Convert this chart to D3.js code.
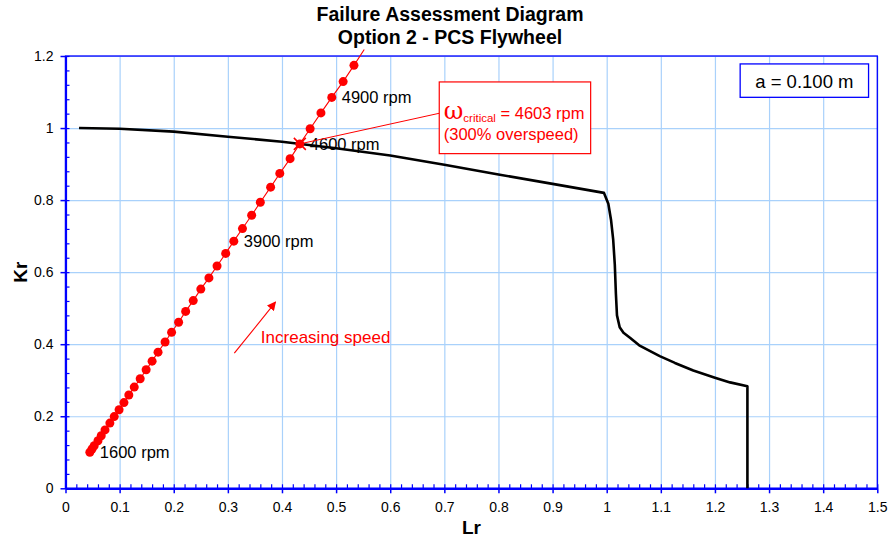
<!DOCTYPE html>
<html>
<head>
<meta charset="utf-8">
<script src="https://cdn.jsdelivr.net/npm/d3@7"></script>
<style>
  body { margin: 0; background: #fff; }
  text { font-family: "Liberation Sans", Arial, sans-serif; }
</style>
</head>
<body>
<div id="chart"></div>
<script>
// tick labels
var lrTicks = [0, 0.1, 0.2, 0.3, 0.4, 0.5, 0.6, 0.7, 0.8, 0.9, 1, 1.1, 1.2, 1.3, 1.4, 1.5];
var krTicks = [0, 0.2, 0.4, 0.6, 0.8, 1, 1.2];

// FAD curve (Option 2)
var fadLr = [0.025, 0.1, 0.2, 0.3, 0.4, 0.5, 0.6, 0.7, 0.8, 0.9, 0.995, 1.003, 1.008, 1.012, 1.015, 1.017, 1.019, 1.024, 1.031, 1.043, 1.060, 1.098, 1.126, 1.160, 1.200, 1.228, 1.260, 1.260];
var fadKr = [1.000, 0.998, 0.990, 0.976, 0.962, 0.944, 0.924, 0.898, 0.871, 0.845, 0.820, 0.790, 0.745, 0.690, 0.620, 0.540, 0.480, 0.447, 0.432, 0.418, 0.397, 0.367, 0.348, 0.327, 0.307, 0.294, 0.283, 0];

// assessment points with increasing speed
var ptLr = [0.045, 0.049, 0.053, 0.060, 0.066, 0.073, 0.082, 0.090, 0.099, 0.108, 0.117, 0.127, 0.138, 0.149, 0.160, 0.171, 0.184, 0.196, 0.209, 0.222, 0.236, 0.250, 0.265, 0.280, 0.296, 0.311, 0.327, 0.344, 0.360, 0.379, 0.396, 0.415, 0.433, 0.452, 0.472, 0.492, 0.513, 0.533];
var ptKr = [0.100, 0.109, 0.118, 0.132, 0.146, 0.162, 0.181, 0.199, 0.218, 0.238, 0.259, 0.281, 0.304, 0.329, 0.353, 0.378, 0.406, 0.433, 0.461, 0.491, 0.521, 0.553, 0.584, 0.617, 0.652, 0.686, 0.721, 0.758, 0.794, 0.836, 0.874, 0.915, 0.956, 0.998, 1.042, 1.085, 1.129, 1.174];
// line runs on past the last plotted point
var lineEndLr = 0.552;
var lineEndKr = 1.218;

var rpmLabels = ["1600 rpm", "3900 rpm", "4600 rpm", "4900 rpm"];
var rpmIndex = [0, 25, 32, 35];

var critLr = 0.433;
var critKr = 0.956;

var svgWidth = 890;
var svgHeight = 537;
var margin = { top: 56, right: 12.7, bottom: 48.7, left: 65.5 };
var width = svgWidth - margin.left - margin.right;
var height = svgHeight - margin.top - margin.bottom;

var svg = d3.select("#chart")
  .append("svg")
  .attr("width", svgWidth)
  .attr("height", svgHeight);

var chartGroup = svg.append("g")
  .attr("transform", `translate(${margin.left}, ${margin.top})`);

var xScale = d3.scaleLinear().domain([0, 1.5]).range([0, width]);
var yScale = d3.scaleLinear().domain([0, 1.2]).range([height, 0]);

var gridColor = "#a9d1fb";
var axisColor = "#0000ff";

// gridlines
var xGrid = chartGroup.append("g")
  .attr("transform", `translate(0, ${height})`)
  .call(d3.axisBottom(xScale).tickValues(lrTicks).tickSize(-height).tickFormat(""));
var yGrid = chartGroup.append("g")
  .call(d3.axisLeft(yScale).tickValues(krTicks).tickSize(-width).tickFormat(""));
[xGrid, yGrid].forEach(function(g) {
  g.select(".domain").remove();
  g.selectAll("line").attr("stroke", gridColor).attr("stroke-width", 1.2);
});

// plot frame
chartGroup.append("rect")
  .attr("width", width)
  .attr("height", height)
  .attr("fill", "none")
  .attr("stroke", axisColor)
  .attr("stroke-width", 1.3);

// minor ticks (inside)
var xMinor = chartGroup.append("g")
  .attr("transform", `translate(0, ${height})`)
  .call(d3.axisBottom(xScale).tickValues(d3.range(0, 1.5001, 0.02)).tickSize(-4).tickSizeOuter(0).tickFormat(""));
var yMinor = chartGroup.append("g")
  .call(d3.axisLeft(yScale).tickValues(d3.range(0, 1.2001, 0.04)).tickSize(-4).tickSizeOuter(0).tickFormat(""));
[xMinor, yMinor].forEach(function(g) {
  g.select(".domain").remove();
  g.selectAll("line").attr("stroke", axisColor).attr("stroke-width", 1.2);
});

// main axes
var xAxis = chartGroup.append("g")
  .attr("transform", `translate(0, ${height})`)
  .call(d3.axisBottom(xScale).tickValues(lrTicks).tickSize(5).tickSizeOuter(0).tickPadding(9).tickFormat(d => d));
var yAxis = chartGroup.append("g")
  .call(d3.axisLeft(yScale).tickValues(krTicks).tickSize(5).tickSizeOuter(0).tickPadding(7).tickFormat(d => d));
[xAxis, yAxis].forEach(function(g) {
  g.select(".domain").attr("stroke", axisColor).attr("stroke-width", 2.2);
  g.selectAll("line").attr("stroke", axisColor).attr("stroke-width", 1.5);
  g.selectAll("text")
    .attr("fill", "#000")
    .style("font-family", "'Liberation Sans', Arial, sans-serif")
    .style("font-size", "14px");
});

// FAD curve
var fadData = fadLr.map((lr, i) => ({ lr: lr, kr: fadKr[i] }));
chartGroup.append("path")
  .datum(fadData)
  .attr("fill", "none")
  .attr("stroke", "#000")
  .attr("stroke-width", 2.6)
  .attr("stroke-linejoin", "round")
  .attr("d", d3.line().x(d => xScale(d.lr)).y(d => yScale(d.kr)));

// speed line and points
var ptData = ptLr.map((lr, i) => ({ lr: lr, kr: ptKr[i] }));
chartGroup.append("path")
  .datum(ptData.concat([{ lr: lineEndLr, kr: lineEndKr }]))
  .attr("fill", "none")
  .attr("stroke", "#ff0000")
  .attr("stroke-width", 1.1)
  .attr("d", d3.line().x(d => xScale(d.lr)).y(d => yScale(d.kr)));

chartGroup.selectAll(".pt")
  .data(ptData)
  .enter()
  .append("circle")
  .attr("class", "pt")
  .attr("cx", d => xScale(d.lr))
  .attr("cy", d => yScale(d.kr))
  .attr("r", 4.5)
  .attr("fill", "#ff0000");

// critical point cross
var cx = xScale(critLr), cy = yScale(critKr);
chartGroup.append("path")
  .attr("d", `M${cx - 6},${cy - 6}L${cx + 6},${cy + 6}M${cx - 6},${cy + 6}L${cx + 6},${cy - 6}`)
  .attr("stroke", "#ff0000")
  .attr("stroke-width", 1.5);

// rpm labels
chartGroup.selectAll(".rpm")
  .data(rpmLabels)
  .enter()
  .append("text")
  .attr("class", "rpm")
  .attr("x", (d, i) => xScale(ptLr[rpmIndex[i]]) + 10)
  .attr("y", (d, i) => yScale(ptKr[rpmIndex[i]]) + 6)
  .attr("font-size", "16.5px")
  .attr("fill", "#000")
  .text(d => d);

// callout for critical speed
var boxX = xScale(0.6906), boxY = yScale(1.128);
chartGroup.append("line")
  .attr("x1", cx).attr("y1", cy)
  .attr("x2", boxX).attr("y2", yScale(1.041))
  .attr("stroke", "#ff0000")
  .attr("stroke-width", 1);
chartGroup.append("rect")
  .attr("x", boxX).attr("y", boxY)
  .attr("width", 151.4).attr("height", 71.7)
  .attr("fill", "#fff")
  .attr("stroke", "#ff0000")
  .attr("stroke-width", 1.2);
var crit = chartGroup.append("text")
  .attr("x", boxX + 4.5)
  .attr("y", boxY + 36.7)
  .attr("fill", "#ff0000")
  .attr("font-size", "16.5px");
crit.append("tspan")
  .style("font-family", "'DejaVu Serif', 'Liberation Serif', serif")
  .attr("font-size", "24px")
  .text("\u03C9");
crit.append("tspan")
  .attr("font-size", "11.5px")
  .attr("dy", 3)
  .text("critical");
crit.append("tspan")
  .attr("dy", -3)
  .text(" = 4603 rpm");
chartGroup.append("text")
  .attr("x", boxX + 4.5)
  .attr("y", boxY + 58)
  .attr("fill", "#ff0000")
  .attr("font-size", "16.5px")
  .text("(300% overspeed)");

// crack size box
var aX = xScale(1.2466), aY = yScale(1.178);
chartGroup.append("rect")
  .attr("x", aX).attr("y", aY)
  .attr("width", 128.4).attr("height", 33.4)
  .attr("fill", "#fff")
  .attr("stroke", axisColor)
  .attr("stroke-width", 1.3);
chartGroup.append("text")
  .attr("x", aX + 64.2)
  .attr("y", aY + 24)
  .attr("text-anchor", "middle")
  .attr("font-size", "18.5px")
  .attr("fill", "#000")
  .text("a = 0.100 m");

// increasing speed arrow
svg.append("defs").append("marker")
  .attr("id", "arrow")
  .attr("viewBox", "0 0 10 10")
  .attr("refX", 9).attr("refY", 5)
  .attr("markerWidth", 9).attr("markerHeight", 9)
  .attr("markerUnits", "userSpaceOnUse")
  .attr("orient", "auto")
  .append("path")
  .attr("d", "M0,0L10,5L0,10z")
  .attr("fill", "#ff0000");
chartGroup.append("line")
  .attr("x1", xScale(0.312)).attr("y1", yScale(0.375))
  .attr("x2", xScale(0.388)).attr("y2", yScale(0.517))
  .attr("stroke", "#ff0000")
  .attr("stroke-width", 1.1)
  .attr("marker-end", "url(#arrow)");
chartGroup.append("text")
  .attr("x", xScale(0.361))
  .attr("y", yScale(0.404))
  .attr("font-size", "17px")
  .attr("fill", "#ff0000")
  .text("Increasing speed");

// titles
svg.append("text")
  .attr("x", 450).attr("y", 21)
  .attr("text-anchor", "middle")
  .attr("font-weight", "bold")
  .attr("font-size", "19.5px")
  .text("Failure Assessment Diagram");
svg.append("text")
  .attr("x", 450).attr("y", 44.3)
  .attr("text-anchor", "middle")
  .attr("font-weight", "bold")
  .attr("font-size", "19.5px")
  .text("Option 2 - PCS Flywheel");

// axis labels
chartGroup.append("text")
  .attr("transform", "rotate(-90)")
  .attr("x", 0 - (height / 2))
  .attr("y", 27 - margin.left)
  .attr("text-anchor", "middle")
  .attr("font-weight", "bold")
  .attr("font-size", "19px")
  .text("Kr");
chartGroup.append("text")
  .attr("x", width / 2)
  .attr("y", height + 46)
  .attr("text-anchor", "middle")
  .attr("font-weight", "bold")
  .attr("font-size", "19px")
  .text("Lr");
</script>
</body>
</html>
